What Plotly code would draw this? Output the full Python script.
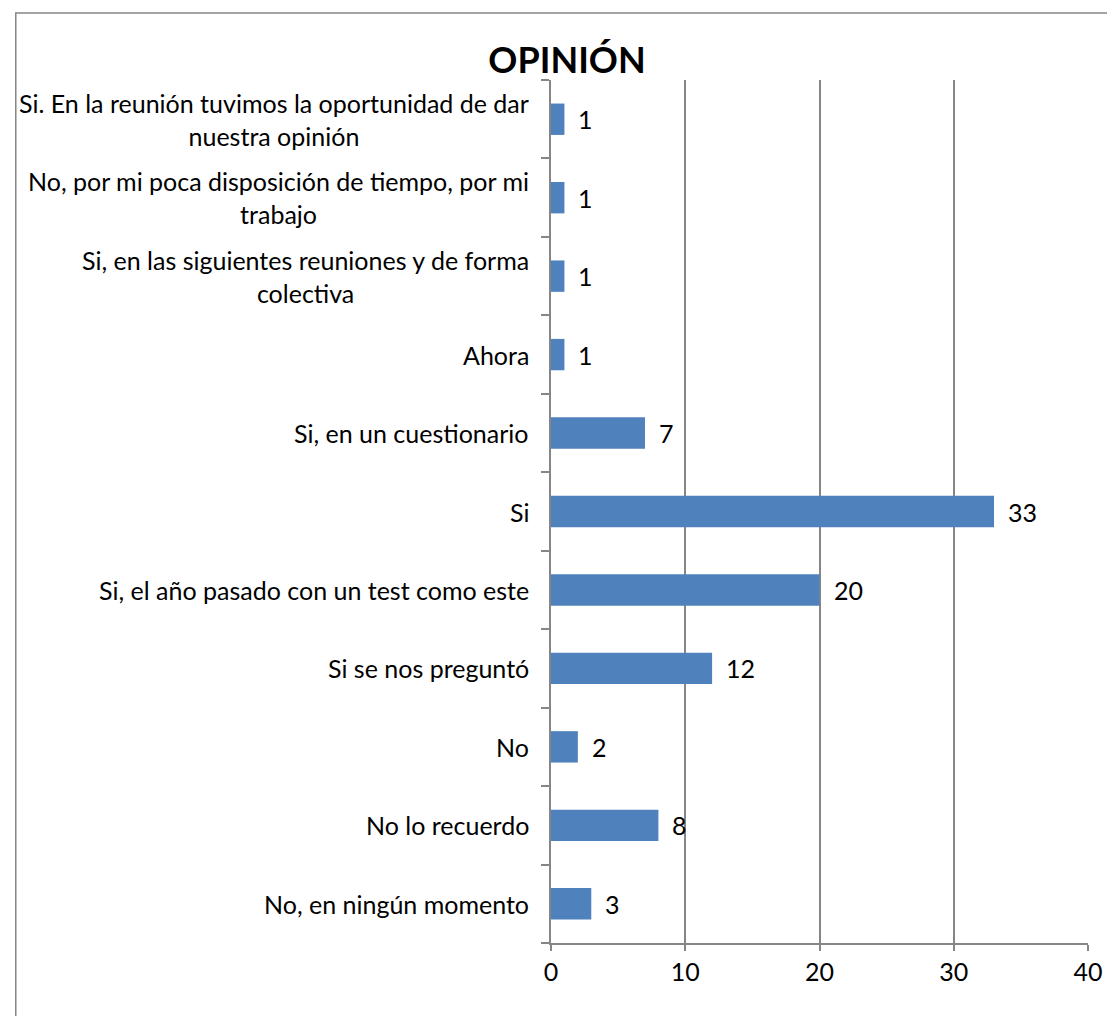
import plotly.graph_objects as go

categories = [
    "No, en ningún momento",
    "No lo recuerdo",
    "No",
    "Si se nos preguntó",
    "Si, el año pasado con un test como este",
    "Si",
    "Si, en un cuestionario",
    "Ahora",
    "Si, en las siguientes reuniones y de forma<br>colectiva",
    "No, por mi poca disposición de tiempo, por mi<br>trabajo",
    "Si. En la reunión tuvimos la oportunidad de dar<br>nuestra opinión",
]
values = [3, 8, 2, 12, 20, 33, 7, 1, 1, 1, 1]
x_ticks = [0, 10, 20, 30, 40]

FONT = "Lato"
FS = 25
# page body has an 8px margin
W, H = 1107, 1008
L, R, T, B = 543, 20, 72, 73
PW, PH = W - L - R, H - T - B

fig = go.Figure()
fig.add_trace(go.Bar(
    y=list(range(len(categories))),
    x=values,
    orientation="h",
    marker=dict(color="#4F81BD", line=dict(width=0)),
    width=0.4,
    hoverinfo="x+y",
))

for i, (c, v) in enumerate(zip(categories, values)):
    fig.add_annotation(
        x=0, xref="paper", xshift=-20,
        y=i, yref="y",
        text=c, showarrow=False,
        xanchor="right", yanchor="middle", align="center",
        font=dict(family=FONT, size=FS, color="#000000"),
    )
    fig.add_annotation(
        x=v, xref="x", xshift=12,
        y=i, yref="y",
        text=str(v), showarrow=False,
        xanchor="left", yanchor="middle",
        font=dict(family=FONT, size=FS, color="#000000"),
    )

# chart frame
fig.add_shape(type="rect", xref="paper", yref="paper",
              x0=(0.8 - L) / PW, x1=(W + 20 - L) / PW,
              y0=-(B + 40) / PH, y1=(H - 5 - B) / PH,
              line=dict(color="#868686", width=1.5), layer="below")

fig.update_layout(
    width=W, height=H,
    margin=dict(l=L, r=R, t=T, b=B),
    paper_bgcolor="white", plot_bgcolor="white",
    showlegend=False,
    title=dict(text="<b>OPINIÓN</b>", x=559 / W, xanchor="center",
               y=1 - 52 / H, yanchor="middle",
               font=dict(family=FONT, size=36, color="#000000")),
    xaxis=dict(range=[0, 40], tickvals=x_ticks, ticktext=[str(t) for t in x_ticks],
               showgrid=True, gridcolor="#868686", gridwidth=1.5,
               showline=True, linecolor="#868686", linewidth=1.5,
               ticks="outside", ticklen=6, tickcolor="#868686", tickwidth=1.5,
               tickfont=dict(family=FONT, size=FS, color="#000000"),
               zeroline=False, fixedrange=True),
    yaxis=dict(range=[-0.5, len(categories) - 0.5],
               tickvals=[i - 0.5 for i in range(len(categories) + 1)],
               showticklabels=False,
               showgrid=False, showline=True, linecolor="#868686", linewidth=1.5,
               ticks="outside", ticklen=8, tickcolor="#868686", tickwidth=1.5,
               zeroline=False, fixedrange=True),
)

fig.write_html("out.html")
